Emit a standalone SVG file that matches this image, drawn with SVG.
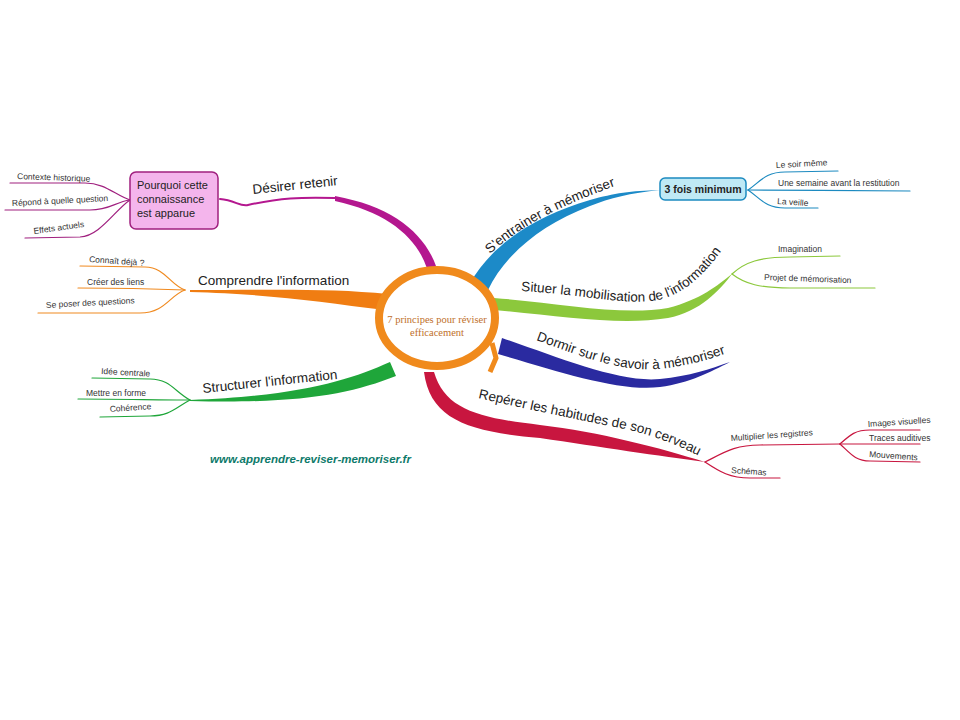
<svg xmlns="http://www.w3.org/2000/svg" width="960" height="720" viewBox="0 0 960 720">
<style>
.t{font-family:"Liberation Sans",Arial,sans-serif;fill:#222}
.m{font-size:13.5px}
.s{font-size:8.5px;fill:#333}
.th{fill:none;stroke-linecap:round}
</style>
<defs>
<path id="pE" d="M490,254 C520,226 560,206 615,186"/>
<path id="pS" d="M521,291 C580,294 625,306 658,300 C688,293 708,270 728,242"/>
<path id="pD" d="M536,340 C580,356 620,372 658,369 C690,366 715,358 740,348"/>
<path id="pR" d="M478,398 C530,410 580,420 620,428 C650,434 675,444 695,454"/>
</defs>
<rect width="960" height="720" fill="#fff"/>
<g id="connectors">
<path d="M440,280 C432,240 400,208 335,196 L335,201 C395,214 425,245 430,282 Z" fill="#b4178f"/>
<path class="th" d="M220,199 C235,200 240,207 248,205 C280,198 300,197 335,198" stroke="#b4178f" stroke-width="2"/>
<g class="th" stroke="#a0207f" stroke-width="1.2">
<path d="M130,200 C115,195 105,183 85,183 L10,183"/>
<path d="M130,200 C115,202 110,210 90,210 L5,210"/>
<path d="M130,200 C115,210 100,236 80,237 L25,238"/>
</g>
<path d="M388,294 C330,288 270,290 190,290 L190,292 C270,294 320,302 385,310 Z" fill="#f07d12"/>
<g class="th" stroke="#f08a20" stroke-width="1.2">
<path d="M185,290 C170,285 165,267 145,267 L80,266"/>
<path d="M185,290 C160,289 120,288 78,288"/>
<path d="M185,290 C170,295 165,313 140,313 L38,313"/>
</g>
<path d="M390,362 C350,380 300,396 190,400 L190,401 C300,404 350,394 396,376 Z" fill="#1fa63a"/>
<g class="th" stroke="#1fa63a" stroke-width="1.2">
<path d="M190,400 C175,392 170,379 150,379 L92,378"/>
<path d="M190,400 C160,400 120,399 78,399"/>
<path d="M190,400 C175,408 170,416 150,416 L100,417"/>
</g>
<path d="M470,283 C495,240 540,215 590,200 C615,193 630,191 660,190 C630,193 610,198 590,206 C540,225 505,255 488,290 Z" fill="#1c8ac8"/>
<g class="th" stroke="#1c8ac0" stroke-width="1.2">
<path d="M748,190 C760,182 765,172 785,172 L838,171"/>
<path d="M748,190 C800,190 860,191 910,191"/>
<path d="M748,190 C760,198 765,208 785,208 L818,208"/>
</g>
<path d="M494,298 C560,303 620,316 668,308 C700,300 718,285 732,274 C720,290 700,312 668,318 C620,326 560,316 494,310 Z" fill="#8cc83c"/>
<g class="th" stroke="#8cc83c" stroke-width="1.2">
<path d="M732,274 C745,262 760,257 790,257 L840,256"/>
<path d="M732,274 C745,284 760,288 790,288 L875,288"/>
</g>
<path d="M502,338 C560,358 620,383 660,379 C690,376 710,369 730,362 C710,372 690,383 660,387 C620,392 560,372 498,354 Z" fill="#2a2aa0"/>
<path d="M434,372 C445,410 480,418 540,425 C600,432 660,448 705,462 C660,456 600,447 540,438 C470,432 430,420 424,372 Z" fill="#c8163f"/>
<g class="th" stroke="#c8163f" stroke-width="1.2">
<path d="M705,462 C725,452 735,445 760,445 L840,444"/>
<path d="M705,462 C720,472 730,478 750,478 L780,478"/>
<path d="M840,444 C850,435 855,430 870,430 L920,430"/>
<path d="M840,444 C870,444 900,444 920,444"/>
<path d="M840,444 C850,453 855,461 870,461 L920,462"/>
</g>
</g>
<g id="center">
<ellipse cx="437" cy="318" rx="58" ry="48" fill="#fff" stroke="#f08a1c" stroke-width="8"/>
<path d="M492,343 L496,358 L490,372" fill="none" stroke="#f08a1c" stroke-width="5"/>
<text x="437" y="323" text-anchor="middle" font-family="Liberation Serif,serif" font-size="10.5" fill="#c0702a">7 principes pour réviser</text>
<text x="437" y="336" text-anchor="middle" font-family="Liberation Serif,serif" font-size="10.5" fill="#c0702a">efficacement</text>
</g>
<g id="n-desirer">
<text class="t m" x="253" y="194" transform="rotate(-6 253 194)">Désirer retenir</text>
<rect x="130" y="172" width="88" height="57" rx="6" fill="#f4b5ec" stroke="#a0207f" stroke-width="1.5"/>
<text class="t" font-size="11" x="137" y="189">Pourquoi cette</text>
<text class="t" font-size="11" x="137" y="203">connaissance</text>
<text class="t" font-size="11" x="137" y="217">est apparue</text>
<text class="t s" x="17" y="179" transform="rotate(2 17 179)">Contexte historique</text>
<text class="t s" x="12" y="206" transform="rotate(-3 12 206)">Répond à quelle question</text>
<text class="t s" x="34" y="234" transform="rotate(-8 34 234)">Effets actuels</text>
</g>
<g id="n-comprendre">
<text class="t m" x="198" y="285">Comprendre l'information</text>
<text class="t s" x="89" y="262" transform="rotate(4 89 262)">Connaît déjà ?</text>
<text class="t s" x="87" y="285">Créer des liens</text>
<text class="t s" x="46" y="308" transform="rotate(-3 46 308)">Se poser des questions</text>
</g>
<g id="n-structurer">
<text class="t m" x="203" y="393" transform="rotate(-6 203 393)">Structurer l'information</text>
<text class="t s" x="101" y="374" transform="rotate(3 101 374)">Idée centrale</text>
<text class="t s" x="86" y="396">Mettre en forme</text>
<text class="t s" x="110" y="412" transform="rotate(-4 110 412)">Cohérence</text>
</g>
<g id="n-entrainer">
<text class="t m"><textPath href="#pE">S'entrainer à mémoriser</textPath></text>
<rect x="660" y="178" width="86" height="22" rx="5" fill="#bfe9f5" stroke="#1c8ac0" stroke-width="1.5"/>
<text class="t" font-size="10.5" font-weight="bold" x="703" y="193" text-anchor="middle">3 fois minimum</text>
<text class="t s" x="776" y="168" transform="rotate(-3 776 168)">Le soir même</text>
<text class="t s" x="778" y="186">Une semaine avant la restitution</text>
<text class="t s" x="777" y="204" transform="rotate(4 777 204)">La veille</text>
</g>
<g id="n-situer">
<text class="t m"><textPath href="#pS">Situer la mobilisation de l'information</textPath></text>
<text class="t s" x="778" y="252">Imagination</text>
<text class="t s" x="764" y="280" transform="rotate(2 764 280)">Projet de mémorisation</text>
</g>
<g id="n-dormir">
<text class="t m"><textPath href="#pD">Dormir sur le savoir à mémoriser</textPath></text>
</g>
<g id="n-reperer">
<text class="t m"><textPath href="#pR">Repérer les habitudes de son cerveau</textPath></text>
<text class="t s" x="731" y="441" transform="rotate(-4 731 441)">Multiplier les registres</text>
<text class="t s" x="731" y="473" transform="rotate(4 731 473)">Schémas</text>
<text class="t s" x="868" y="427" transform="rotate(-4 868 427)">Images visuelles</text>
<text class="t s" x="869" y="441">Traces auditives</text>
<text class="t s" x="869" y="457" transform="rotate(4 869 457)">Mouvements</text>
</g>
<text x="210" y="463" font-family="Liberation Sans,Arial,sans-serif" font-size="11.5" font-weight="bold" font-style="italic" fill="#0e7a6a">www.apprendre-reviser-memoriser.fr</text>
</svg>
